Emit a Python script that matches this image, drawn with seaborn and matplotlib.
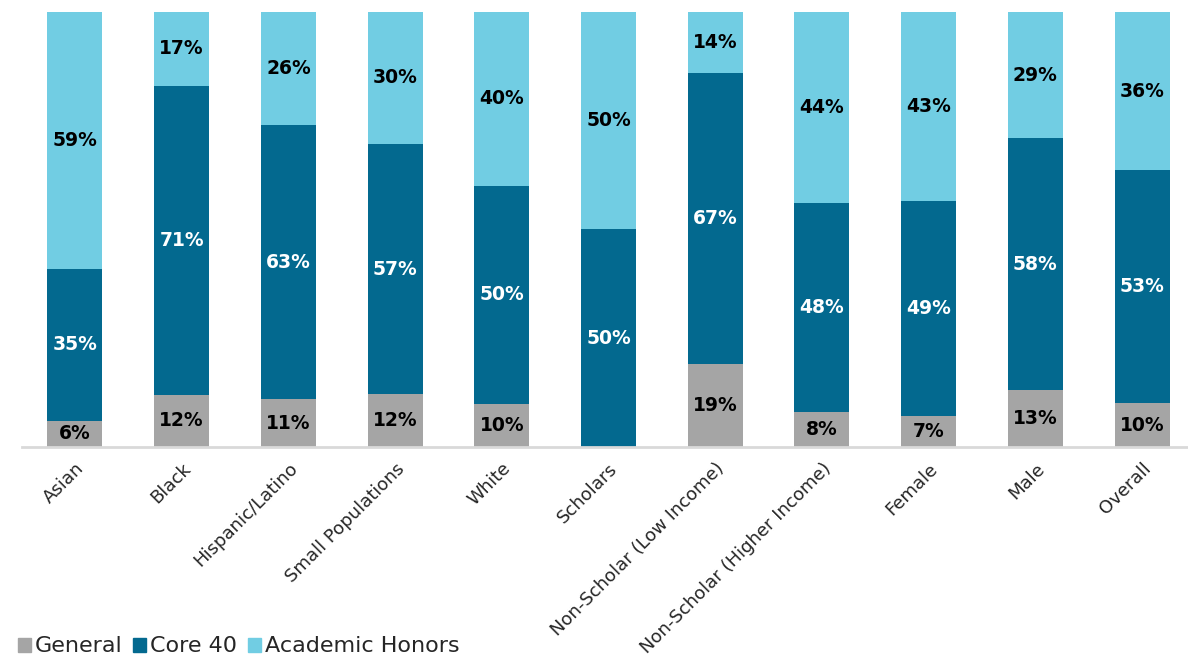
import numpy as np
import pandas as pd
import matplotlib
matplotlib.use("Agg")
import matplotlib.pyplot as plt
import seaborn as sns

categories = ["Asian", "Black", "Hispanic/Latino", "Small Populations", "White",
              "Scholars", "Non-Scholar (Low Income)", "Non-Scholar (Higher Income)",
              "Female", "Male", "Overall"]
general = [6, 12, 11, 12, 10, 0, 19, 8, 7, 13, 10]
core40 = [35, 71, 63, 57, 50, 50, 67, 48, 49, 58, 53]
honors = [59, 17, 26, 30, 40, 50, 14, 44, 43, 29, 36]

series_names = ["General", "Core 40", "Academic Honors"]
colors = ["#A5A5A5", "#03698F", "#71CDE3"]
label_colors = ["black", "white", "black"]

sns.set_style("white")
plt.rcParams['font.family'] = ['DejaVu Sans']

# 100% stacked: normalise each bar to its total
df = pd.DataFrame({"cat": categories, "General": general,
                   "Core 40": core40, "Academic Honors": honors})
tot = df[series_names].sum(axis=1)
for s in series_names:
    df[s + "_pct"] = df[s] / tot * 100
df["cum0"] = df["General_pct"]
df["cum1"] = df["cum0"] + df["Core 40_pct"]
df["cum2"] = df["cum1"] + df["Academic Honors_pct"]

fig = plt.figure(figsize=(11.88, 6.58), dpi=100)
ax = fig.add_axes([21.6 / 1188, (658 - 447) / 658, 1 - 21.6 / 1188, 435 / 658])

bar_w = 0.515
for col, c in zip(["cum2", "cum1", "cum0"], colors[::-1]):
    sns.barplot(data=df, x="cat", y=col, color=c, width=bar_w, ax=ax,
                saturation=1, edgecolor="none", linewidth=0)

# segment labels
bottoms = np.zeros(len(categories))
for s, lc in zip(series_names, label_colors):
    vals = df[s + "_pct"].values
    for i, v in enumerate(vals):
        if df[s].iloc[i] > 0:
            ax.text(i, bottoms[i] + v / 2, f"{df[s].iloc[i]}%", ha="center", va="center",
                    fontsize=13.5, fontweight="bold", color=lc)
    bottoms += vals

ax.set_ylim(0, 100)
ax.set_xlim(-0.5, 10.43)
ax.set_xlabel("")
ax.set_ylabel("")
ax.set_yticks([])
for sp in ["top", "right", "left"]:
    ax.spines[sp].set_visible(False)
ax.spines["bottom"].set_color("#D9D9D9")
ax.spines["bottom"].set_linewidth(2)
ax.tick_params(axis="x", length=0, pad=9)
plt.setp(ax.get_xticklabels(), rotation=45, ha="right", rotation_mode="anchor",
         fontsize=13, color="#262626")

handles = [plt.Rectangle((0, 0), 1, 1, color=c) for c in colors]
fig.legend(handles, series_names, loc="lower left", bbox_to_anchor=(-0.002, -0.028),
           ncol=3, frameon=False, fontsize=16, handlelength=0.6, handleheight=0.6,
           handletextpad=0.15, columnspacing=0.5, labelcolor="#262626")

fig.savefig("out.png", dpi=100)
